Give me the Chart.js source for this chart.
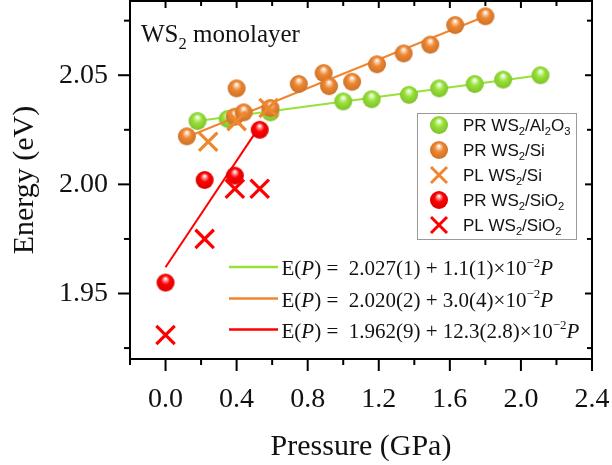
<!DOCTYPE html>
<html><head><meta charset="utf-8">
<script src="https://cdn.jsdelivr.net/npm/chart.js@4"></script>
<style>html,body{margin:0;padding:0;background:#fff}canvas{display:block}</style>
</head><body>
<canvas id="c" width="612" height="465"></canvas>
<script>
// ---- data ----
const prAl2O3P = [0.18, 0.35, 0.59, 1.00, 1.16, 1.37, 1.54, 1.74, 1.90, 2.11];
const prAl2O3E = [2.029, 2.030, 2.033, 2.038, 2.039, 2.041, 2.044, 2.046, 2.048, 2.050];
const prSiP = [0.12, 0.40, 0.39, 0.44, 0.59, 0.75, 0.89, 0.92, 1.05, 1.19, 1.34, 1.49, 1.63, 1.80];
const prSiE = [2.022, 2.044, 2.031, 2.033, 2.035, 2.046, 2.051, 2.045, 2.047, 2.055, 2.060, 2.064, 2.073, 2.077];
const plSiP = [0.24, 0.40, 0.58];
const plSiE = [2.0195, 2.029, 2.035];
const prSiO2P = [0.00, 0.22, 0.39, 0.53];
const prSiO2E = [1.955, 2.002, 2.004, 2.025];
const plSiO2P = [0.00, 0.22, 0.39, 0.53];
const plSiO2E = [1.931, 1.975, 1.998, 1.998];
// fitted lines (end points)
const fitAl2O3P = [0.18, 2.11];
const fitAl2O3E = [2.029, 2.050];
const fitSiP = [0.10, 1.80];
const fitSiE = [2.021, 2.077];
const fitSiO2P = [0.00, 0.50];
const fitSiO2E = [1.962, 2.023];
// labels
const seriesLabels = ['PR WS₂/Al₂O₃', 'PR WS₂/Si', 'PL WS₂/Si', 'PR WS₂/SiO₂', 'PL WS₂/SiO₂'];
const fitLabels = ['E(P) =  2.027(1) + 1.1(1)×10⁻²P', 'E(P) =  2.020(2) + 3.0(4)×10⁻²P', 'E(P) =  1.962(9) + 12.3(2.8)×10⁻²P'];
const panelLabel = 'WS₂ monolayer';
const xTitle = 'Pressure (GPa)';
const yTitle = 'Energy (eV)';
// ticks
const xMajorTicks = [0.0, 0.4, 0.8, 1.2, 1.6, 2.0, 2.4];
const xMinorTicks = [-0.2, 0.2, 0.6, 1.0, 1.4, 1.8, 2.2];
const yMajorTicks = [1.95, 2.00, 2.05];
const yMinorTicks = [1.925, 1.975, 2.025, 2.075];

const GREEN = '#96e236', ORANGE = '#ef8630', RED = '#ff0000';
const SERIF = '"Liberation Serif", "Times New Roman", serif';
const SANS = '"Liberation Sans", Arial, sans-serif';

function shade(hex, f) {
  const n = parseInt(hex.slice(1), 16);
  let r = n >> 16, g = (n >> 8) & 255, b = n & 255;
  if (f >= 0) { r += (255 - r) * f; g += (255 - g) * f; b += (255 - b) * f; }
  else { r *= (1 + f); g *= (1 + f); b *= (1 + f); }
  return `rgb(${Math.round(r)},${Math.round(g)},${Math.round(b)})`;
}
function makeBall(color, r) {
  const c = document.createElement('canvas');
  const s = Math.ceil(2 * r + 2);
  c.width = s; c.height = s;
  const g = c.getContext('2d');
  const cx = s / 2, cy = s / 2;
  const grad = g.createRadialGradient(cx, cy - 0.45 * r, 0.05 * r, cx, cy - 0.05 * r, 1.05 * r);
  grad.addColorStop(0, '#ffffff');
  grad.addColorStop(0.18, shade(color, 0.55));
  grad.addColorStop(0.45, color);
  grad.addColorStop(1, shade(color, -0.15));
  g.fillStyle = grad;
  g.beginPath(); g.arc(cx, cy, r, 0, Math.PI * 2); g.fill();
  return c;
}
const ballG = makeBall(GREEN, 9);
const ballO = makeBall(ORANGE, 9);
const ballR = makeBall(RED, 9);

const pts = (P, E) => P.map((p, i) => ({x: p, y: E[i]}));

const datasets = [
  {label: seriesLabels[0], data: pts(prAl2O3P, prAl2O3E), pointStyle: ballG, pointRadius: 9, showLine: false, order: 7, legendKind: 'ball', color: GREEN},
  {label: fitLabels[0], data: pts(fitAl2O3P, fitAl2O3E), showLine: true, pointRadius: 0, borderColor: GREEN, borderWidth: 2, order: 8, legendKind: 'fit', color: GREEN},
  {label: seriesLabels[1], data: pts(prSiP, prSiE), pointStyle: ballO, pointRadius: 9, showLine: false, order: 5, legendKind: 'ball', color: ORANGE},
  {label: seriesLabels[2], data: pts(plSiP, plSiE), pointStyle: 'crossRot', pointRadius: 13, pointBorderWidth: 3.2, pointBorderColor: ORANGE, borderColor: ORANGE, showLine: false, order: 4, legendKind: 'cross', color: ORANGE},
  {label: fitLabels[1], data: pts(fitSiP, fitSiE), showLine: true, pointRadius: 0, borderColor: ORANGE, borderWidth: 2, order: 6, legendKind: 'fit', color: ORANGE},
  {label: seriesLabels[3], data: pts(prSiO2P, prSiO2E), pointStyle: ballR, pointRadius: 9, showLine: false, order: 2, legendKind: 'ball', color: RED},
  {label: seriesLabels[4], data: pts(plSiO2P, plSiO2E), pointStyle: 'crossRot', pointRadius: 13, pointBorderWidth: 3.2, pointBorderColor: RED, borderColor: RED, showLine: false, order: 1, legendKind: 'cross', color: RED},
  {label: fitLabels[2], data: pts(fitSiO2P, fitSiO2E), showLine: true, pointRadius: 0, borderColor: RED, borderWidth: 2, order: 3, legendKind: 'fit', color: RED},
];

const SUB = {'₀': '0', '₁': '1', '₂': '2', '₃': '3'};
const SUP = {'⁻': '−', '²': '2'};
function drawRich(ctx, str, x, y, size, family, italicP) {
  for (const ch of str) {
    let t = ch, dy = 0, font = `${size}px ${family}`;
    if (SUB[ch]) { t = SUB[ch]; font = `${(size * 0.66).toFixed(1)}px ${family}`; dy = size * 0.26; }
    else if (SUP[ch]) { t = SUP[ch]; font = `${(size * 0.62).toFixed(1)}px ${family}`; dy = -size * 0.4; }
    else if (italicP && ch === 'P') font = `italic ${size}px ${family}`;
    ctx.font = font;
    ctx.fillText(t, x, y + dy);
    x += ctx.measureText(t).width;
  }
  return x;
}

const framePlugin = {
  id: 'frame',
  beforeDatasetsDraw(chart) {
    const {ctx, chartArea: a, scales: {x, y}} = chart;
    ctx.save();
    ctx.strokeStyle = '#000';
    ctx.lineWidth = 2;
    ctx.strokeRect(a.left, a.top, a.right - a.left, a.bottom - a.top);
    const tick = (x1, y1, x2, y2) => { ctx.beginPath(); ctx.moveTo(x1, y1); ctx.lineTo(x2, y2); ctx.stroke(); };
    xMajorTicks.forEach(v => { const p = x.getPixelForValue(v); tick(p, a.bottom, p, a.bottom + 12); tick(p, a.top, p, a.top + 7); });
    xMinorTicks.forEach(v => { const p = x.getPixelForValue(v); tick(p, a.bottom, p, a.bottom + 6); tick(p, a.top, p, a.top + 5); });
    yMajorTicks.forEach(v => { const p = y.getPixelForValue(v); tick(a.left, p, a.left - 12, p); tick(a.right, p, a.right - 7, p); });
    yMinorTicks.forEach(v => { const p = y.getPixelForValue(v); tick(a.left, p, a.left - 6, p); tick(a.right, p, a.right - 5, p); });
    ctx.restore();
  },
  afterDraw(chart) {
    const {ctx, chartArea: a} = chart;
    ctx.save();
    ctx.fillStyle = '#111';
    ctx.textBaseline = 'alphabetic';
    // panel label
    drawRich(ctx, panelLabel, a.left + 11, 42, 25, SERIF, false);
    // marker legend box
    ctx.strokeStyle = '#9a9a9a'; ctx.lineWidth = 1;
    ctx.strokeRect(417.5, 113.5, 159, 126);
    const ds = chart.data.datasets.filter(d => d.legendKind !== 'fit');
    ds.forEach((d, i) => {
      const cy = 125 + i * 25, cx = 439;
      if (d.legendKind === 'ball') {
        const img = d.pointStyle;
        ctx.drawImage(img, cx - img.width / 2, cy - img.height / 2);
      } else {
        ctx.strokeStyle = d.color; ctx.lineWidth = 3;
        ctx.beginPath();
        ctx.moveTo(cx - 8, cy - 8); ctx.lineTo(cx + 8, cy + 8);
        ctx.moveTo(cx + 8, cy - 8); ctx.lineTo(cx - 8, cy + 8);
        ctx.stroke();
      }
      ctx.fillStyle = '#111';
      drawRich(ctx, d.label, 463, cy + 6, 17, SANS, false);
    });
    // fit legend
    const fits = chart.data.datasets.filter(d => d.legendKind === 'fit');
    fits.forEach((d, i) => {
      const ly = [267, 298.5, 329.5][i];
      ctx.strokeStyle = d.color; ctx.lineWidth = 2.5;
      ctx.beginPath(); ctx.moveTo(229, ly); ctx.lineTo(278, ly); ctx.stroke();
      ctx.fillStyle = '#111';
      drawRich(ctx, d.label, 281.5, ly + 8, 21, SERIF, true);
    });
    ctx.restore();
  }
};

new Chart(document.getElementById('c'), {
  type: 'scatter',
  data: {datasets},
  options: {
    responsive: false,
    devicePixelRatio: 1,
    animation: false,
    layout: {autoPadding: false, padding: {top: 1, right: 20, bottom: 0, left: 0}},
    plugins: {legend: {display: false}, tooltip: {enabled: false}},
    scales: {
      x: {
        type: 'linear', min: -0.2, max: 2.4,
        afterBuildTicks: s => { s.ticks = xMajorTicks.map(v => ({value: v})); },
        afterFit: s => { s.height = 106; s.paddingLeft = 0; s.paddingRight = 0; s.paddingTop = 0; s.paddingBottom = 0; },
        ticks: {callback: v => v.toFixed(1), font: {family: SERIF, size: 28}, color: '#111', padding: 12, maxRotation: 0, autoSkip: false},
        grid: {drawOnChartArea: false, tickColor: 'rgba(0,0,0,0)', tickLength: 12},
        border: {display: false},
        title: {display: true, text: xTitle, font: {family: SERIF, size: 30}, color: '#111', padding: {top: 0, bottom: 0}}
      },
      y: {
        type: 'linear', min: 1.92, max: 2.084,
        afterBuildTicks: s => { s.ticks = yMajorTicks.map(v => ({value: v})); },
        afterFit: s => { s.width = 130; s.paddingTop = 0; s.paddingBottom = 0; s.paddingLeft = 0; s.paddingRight = 0; },
        ticks: {callback: v => v.toFixed(2), font: {family: SERIF, size: 28, lineHeight: 0.05}, color: '#111', padding: 10, autoSkip: false},
        grid: {drawOnChartArea: false, tickColor: 'rgba(0,0,0,0)', tickLength: 12},
        border: {display: false},
        title: {display: true, text: yTitle, font: {family: SERIF, size: 30}, color: '#111', padding: {top: 7, bottom: 7}}
      }
    }
  },
  plugins: [framePlugin]
});
</script>
</body></html>
